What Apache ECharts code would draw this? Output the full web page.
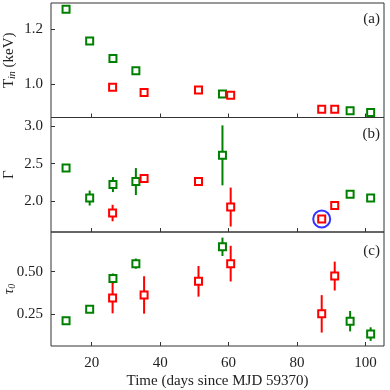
<!DOCTYPE html>
<html>
<head>
<meta charset="utf-8">
<script src="https://cdn.jsdelivr.net/npm/echarts@6/dist/echarts.min.js"></script>
<style>
  html, body { margin: 0; padding: 0; background: #fff; }
  #chart { width: 390px; height: 390px; }
</style>
</head>
<body>
<div id="chart"></div>
<script>
// observation times (days since MJD 59370)
const timeGreen = [12.5, 19.4, 26.2, 32.9, 58.2, 95.5, 101.5];
const timeRed = [26.1, 35.3, 51.2, 60.6, 87.2, 91.0];

// (a) inner disk temperature
const tinGreen = [1.273, 1.158, 1.094, 1.049, 0.965, 0.904, 0.897];
const tinGreenErr = [0.004, 0.004, 0.004, 0.004, 0.004, 0.004, 0.004];
const tinRed = [0.989, 0.970, 0.979, 0.960, 0.909, 0.909];
const tinRedErr = [0.004, 0.012, 0.004, 0.004, 0.004, 0.004];

// (b) photon index
const gammaGreen = [2.44, 2.04, 2.22, 2.26, 2.61, 2.09, 2.04];
const gammaGreenErr = [0.03, 0.10, 0.10, 0.18, 0.40, 0.02, 0.03];
const gammaRed = [1.84, 2.30, 2.26, 1.92, 1.76, 1.94];
const gammaRedErr = [0.11, 0.02, 0.02, 0.26, 0.02, 0.02];

// (c) optical depth
const tauGreen = [0.211, 0.279, 0.459, 0.547, 0.646, 0.209, 0.133];
const tauGreenErr = [0.01, 0.02, 0.03, 0.03, 0.054, 0.06, 0.04];
const tauRed = [0.345, 0.363, 0.443, 0.547, 0.252, 0.474];
const tauRedErr = [0.09, 0.11, 0.09, 0.105, 0.11, 0.085];

// circled observation in panel (b)
const circled = [[87.2, 1.76]];

// tick labels
const xTicks = [20, 40, 60, 80, 100];
const tinTicks = [1.0, 1.2];
const gammaTicks = [2.0, 2.5, 3.0];
const tauTicks = [0.25, 0.5];

const GREEN = "#008000";
const RED = "#ff0000";
const FONT = "Liberation Serif";
const TXT = "#222";

function rows(xs, ys, es) {
  return xs.map((x, i) => [x, ys[i], es[i]]);
}

function errBar(params, api) {
  const x = api.value(0), y = api.value(1), e = api.value(2);
  const p1 = api.coord([x, y - e]);
  const p2 = api.coord([x, y + e]);
  return {
    type: "line",
    shape: { x1: p1[0], y1: p1[1], x2: p2[0], y2: p2[1] },
    style: { stroke: api.visual("color"), lineWidth: 2 }
  };
}

const grids = [
  { left: 51, right: 6, top: 3, height: 114.5 },
  { left: 51, right: 6, top: 117.5, height: 114.5 },
  { left: 51, right: 6, top: 232, height: 114 }
].map(g => Object.assign(g, {
  show: true, borderColor: "#333", borderWidth: 1,
  containLabel: false, outerBoundsMode: "none"
}));

const xAxes = [0, 1, 2].map(i => ({
  type: "value",
  gridIndex: i,
  min: 8.1,
  max: 105.4,
  axisLine: { show: false },
  splitLine: { show: false },
  axisTick: { show: true, inside: true, length: 4, customValues: xTicks, lineStyle: { color: "#333" } },
  axisLabel: {
    show: i === 2,
    customValues: xTicks,
    fontFamily: FONT, fontSize: 15, color: TXT, margin: 10
  },
  name: i === 2 ? "Time (days since MJD 59370)" : "",
  nameLocation: "middle",
  nameGap: 28,
  nameMoveOverlap: false,
  nameTextStyle: { fontFamily: FONT, fontSize: 15, color: TXT }
}));

function yAxis(i, min, max, ticks, name, digits) {
  return {
    type: "value",
    gridIndex: i,
    min: min,
    max: max,
    axisLine: { show: false },
    splitLine: { show: false },
    axisTick: { show: true, inside: true, length: 4, customValues: ticks, lineStyle: { color: "#333" } },
    axisLabel: {
      customValues: ticks,
      formatter: v => v.toFixed(digits),
      fontFamily: FONT, fontSize: 15, color: TXT, margin: 8
    },
    name: name,
    nameLocation: "middle",
    nameGap: 34,
    nameMoveOverlap: false,
    nameTextStyle: {
      fontFamily: FONT, fontSize: 15, color: TXT,
      rich: {
        sub: { fontFamily: FONT, fontSize: 10, fontStyle: "italic", color: TXT, padding: [6, 0, 0, 0] },
        it: { fontFamily: FONT, fontSize: 15, fontStyle: "italic", color: TXT }
      }
    }
  };
}

const yAxes = [
  yAxis(0, 0.879, 1.296, tinTicks, "T{sub|in} (keV)", 1),
  yAxis(1, 1.587, 3.115, gammaTicks, "Γ", 1),
  yAxis(2, 0.063, 0.733, tauTicks, "{it|τ}{sub|0}", 2)
];

const panels = [
  [tinGreen, tinGreenErr, tinRed, tinRedErr],
  [gammaGreen, gammaGreenErr, gammaRed, gammaRedErr],
  [tauGreen, tauGreenErr, tauRed, tauRedErr]
];

const series = [];
panels.forEach((p, i) => {
  [[timeGreen, p[0], p[1], GREEN], [timeRed, p[2], p[3], RED]].forEach(s => {
    const data = rows(s[0], s[1], s[2]);
    series.push({
      type: "custom",
      xAxisIndex: i, yAxisIndex: i,
      renderItem: errBar,
      encode: { x: 0, y: 1 },
      itemStyle: { color: s[3] },
      data: data,
      z: 2,
      silent: true
    });
    series.push({
      type: "scatter",
      xAxisIndex: i, yAxisIndex: i,
      symbol: "rect",
      symbolSize: 7,
      itemStyle: { color: "#fff", borderColor: s[3], borderWidth: 2, opacity: 1 },
      data: data.map(d => [d[0], d[1]]),
      z: 3,
      silent: true
    });
  });
});

series.push({
  type: "scatter",
  xAxisIndex: 1, yAxisIndex: 1,
  symbol: "circle",
  symbolSize: 17,
  itemStyle: { color: "transparent", borderColor: "#0000ff", borderWidth: 2 },
  data: circled,
  z: 4,
  silent: true
});

const labelStyle = { fontFamily: FONT, fontSize: 15, fill: TXT };
const option = {
  animation: false,
  backgroundColor: "#fff",
  grid: grids,
  xAxis: xAxes,
  yAxis: yAxes,
  series: series,
  graphic: [
    { type: "text", right: 10, top: 12, style: Object.assign({ text: "(a)" }, labelStyle) },
    { type: "text", right: 10, top: 127, style: Object.assign({ text: "(b)" }, labelStyle) },
    { type: "text", right: 10, top: 244, style: Object.assign({ text: "(c)" }, labelStyle) }
  ]
};

const chart = echarts.init(document.getElementById("chart"));
chart.setOption(option);
window.addEventListener("resize", () => chart.resize());
</script>
</body>
</html>
